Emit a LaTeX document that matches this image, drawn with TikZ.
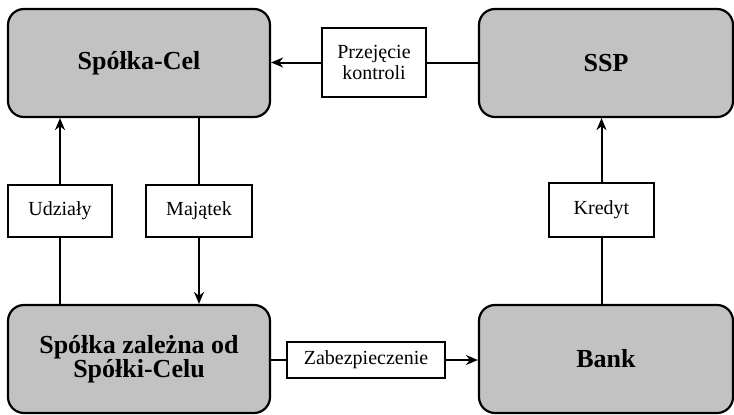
\documentclass[tikz,border=0pt]{standalone}
\usepackage{fontspec}
\setmainfont{Liberation Serif}
\usetikzlibrary{arrows.meta}
\begin{document}
\begin{tikzpicture}[x=1pt,y=-1pt,
  party/.style={draw=black,line width=2.2pt,rounded corners=16pt,fill=black!24,
    minimum width=262pt,minimum height=108pt,inner sep=0pt,align=center,
    font=\fontsize{26}{26}\selectfont\bfseries},
  flow/.style={draw=black,line width=2pt,fill=white,inner sep=0pt,align=center,
    font=\fontsize{20}{21}\selectfont},
  link/.style={line width=2pt},
  arr/.style={link,-{Stealth[length=12pt,width=10pt]}}]
\useasboundingbox (0,0) rectangle (734,415);
\node[party] (cel) at (139,63) {Spółka-Cel};
\node[party,minimum width=254pt] (ssp) at (606,63) {SSP};
\node[party] (zal) at (139,359) {Spółka zależna od\\[-2pt]Spółki-Celu};
\node[party,minimum width=254pt] (bank) at (606,359) {Bank};
\node[flow,minimum width=104pt,minimum height=69pt] (prz) at (374,62.5) {Przejęcie\\kontroli};
\node[flow,minimum width=104pt,minimum height=52pt] (udz) at (60,211) {Udziały};
\node[flow,minimum width=106pt,minimum height=52pt] (maj) at (199,211) {Majątek};
\node[flow,minimum width=105pt,minimum height=54pt] (kre) at (601.5,210) {Kredyt};
\node[flow,minimum width=158pt,minimum height=36pt] (zab) at (366,360) {Zabezpieczenie};
% control transfer
\draw[link] (ssp.west |- prz) -- (prz.east);
\draw[arr] (prz.west) -- (cel.east |- prz);
% shares
\draw[link] (zal.north -| udz) -- (udz.south);
\draw[arr] (udz.north) -- (cel.south -| udz);
% assets
\draw[link] (cel.south -| maj) -- (maj.north);
\draw[arr] (maj.south) -- (zal.north -| maj);
% loan
\draw[link] (bank.north -| kre) -- (kre.south);
\draw[arr] (kre.north) -- (ssp.south -| kre);
% collateral
\draw[link] (zal.east |- zab) -- (zab.west);
\draw[arr] (zab.east) -- (bank.west |- zab);
\end{tikzpicture}
\end{document}
